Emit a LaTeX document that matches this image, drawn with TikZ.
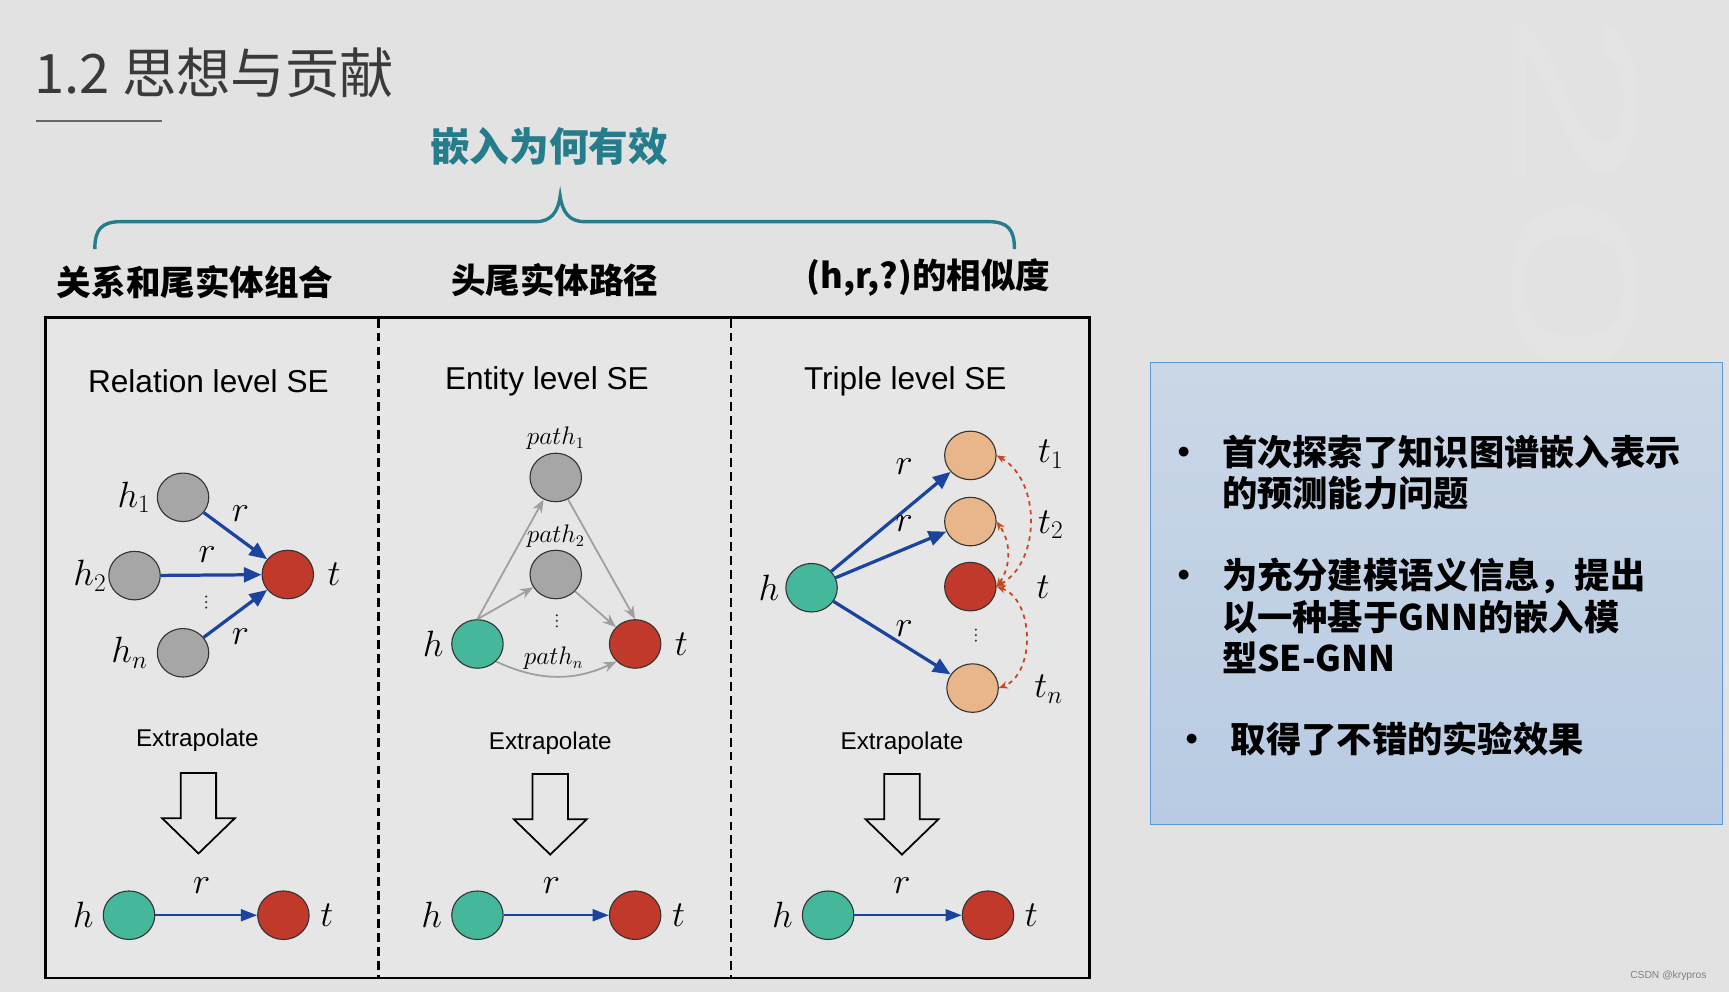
\documentclass[tikz,border=0pt]{standalone}
\usepackage{fontspec}
\setmainfont{Liberation Sans}
\newfontfamily\cjk{Noto Sans CJK SC}
\usepackage{tikz}
\usetikzlibrary{arrows.meta,positioning,shapes.geometric}
\definecolor{SlideBg}{HTML}{E2E2E2}
\definecolor{PanelBg}{HTML}{E6E6E6}
\definecolor{TitleInk}{HTML}{3A3A3A}
\definecolor{BraceTeal}{HTML}{257C8A}
\definecolor{EdgeBlue}{HTML}{1B44A0}
\definecolor{NodeGray}{HTML}{A6A6A6}
\definecolor{NodeRed}{HTML}{C0392A}
\definecolor{NodeTeal}{HTML}{45B89C}
\definecolor{NodePeach}{HTML}{E8B68A}
\definecolor{LinkOrange}{HTML}{C9471F}
\definecolor{NoteEdge}{HTML}{5B9BD5}
\definecolor{NoteTop}{HTML}{CAD7E6}
\definecolor{NoteBottom}{HTML}{B8CBE3}

\begin{document}
\begin{tikzpicture}[x=0.75pt,y=-0.75pt,
  ent/.style={ellipse,draw=black!80,line width=0.75pt,minimum width=35pt,minimum height=33pt,inner sep=0pt},
  grayent/.style={ent,fill=NodeGray},
  redent/.style={ent,fill=NodeRed},
  tealent/.style={ent,fill=NodeTeal},
  peachent/.style={ent,fill=NodePeach},
  sym/.style={inner sep=0pt,font=\fontsize{25}{25}\selectfont},
  pathlbl/.style={inner sep=0pt,font=\fontsize{16}{16}\selectfont},
  paneltitle/.style={inner sep=0pt,font=\fontsize{21.5}{22}\selectfont},
  extra/.style={inner sep=0pt,font=\fontsize{16.5}{17}\selectfont},
  heading/.style={inner sep=0pt,font=\cjk\bfseries\fontsize{23.5}{24}\selectfont},
  noteline/.style={anchor=base west,inner sep=0pt,font=\cjk\bfseries\fontsize{24}{24}\selectfont},
  dot/.style={circle,fill=black!80,inner sep=0pt,minimum size=1.6pt},
  rel/.style={-{Triangle[length=12pt,width=10pt]},draw=EdgeBlue,line width=2.2pt},
  relthin/.style={-{Triangle[length=11pt,width=8pt]},draw=EdgeBlue,line width=1.7pt},
  hop/.style={-{Stealth[length=9pt,width=7pt]},draw=gray!75,line width=1.2pt},
  sim/.style={{Stealth[length=6pt,width=5pt]}-{Stealth[length=6pt,width=5pt]},draw=LinkOrange,line width=1.2pt,dashed},
  divider/.style={line width=1.8pt,dash pattern=on 6pt off 3.5pt},
  bigdown/.style={draw=black,line width=1.2pt},
  brace/.style={draw=BraceTeal,line width=2.3pt}
]
% slide background
\path[fill=SlideBg] (0,0) rectangle (1568,900);
\node[rotate=-90,xscale=1.9,text=white,opacity=0.1,inner sep=0pt,font=\fontsize{120}{120}\selectfont] (mark) at (1428,345) {2022};

% title
\node[anchor=base west,inner sep=0pt,text=TitleInk,font=\cjk\fontsize{37}{40}\selectfont] (title) at (31,85) {1.2 思想与贡献};
\draw[draw=black!60,line width=1.5pt] (33,110) -- (147,110);

% brace with its headings
\node[inner sep=0pt,text=BraceTeal,font=\cjk\bfseries\fontsize{27}{28}\selectfont] (why) at (498,133) {嵌入为何有效};
\draw[brace] (86,226) .. controls (86,208) and (92,201) .. (110,201) -- (486,201)
  .. controls (500,201) and (506,192) .. (508,178)
  .. controls (510,192) and (516,201) .. (530,201) -- (896,201)
  .. controls (914,201) and (920,208) .. (920,226);
\node[heading] (headA) at (177,256) {关系和尾实体组合};
\node[heading] (headB) at (503,254) {头尾实体路径};
\node[heading] (headC) at (842,252) {(h,r,?)的相似度};

% framed figure
\draw[fill=PanelBg,line width=1.8pt] (41,288) rectangle (988,887);
\draw[divider] (343,289) -- (343,887);
\draw[divider] (663,289) -- (663,887);

% relation level
\node[paneltitle] (relT) at (189,346) {Relation level SE};
\node[grayent] (rh1) at (166,451) {};
\node[grayent] (rh2) at (122,522) {};
\node[grayent] (rhn) at (166,592) {};
\node[redent] (rt) at (261,521) {};
\node[sym,left=4pt of rh1] (rh1l) {$h_1$};
\node[sym,left=1pt of rh2] (rh2l) {$h_2$};
\node[sym,left=6pt of rhn] (rhnl) {$h_n$};
\node[sym,right=9pt of rt] (rtl) {$t$};
\node[dot] (rdot1) at (187,541) {};
\node[dot] (rdot2) at (187,546) {};
\node[dot] (rdot3) at (187,551) {};
\draw[rel] (rh1) -- (rt);
\draw[rel] (rh2) -- (rt);
\draw[rel] (rhn) -- (rt);
\node[sym] (rr1) at (218,466) {$r$};
\node[sym] (rr2) at (188,503) {$r$};
\node[sym] (rrn) at (218,577) {$r$};
\node[extra] (relX) at (179,671) {Extrapolate};
\draw[bigdown] (164,701) -- (196,701) -- (196,742) -- (213,742) -- (180,774) -- (147,742) -- (164,742) -- cycle;
\node[tealent] (rbh) at (117,830) {};
\node[redent] (rbt) at (257,830) {};
\node[sym,left=6pt of rbh] (rbhl) {$h$};
\node[sym,right=7pt of rbt] (rbtl) {$t$};
\draw[relthin] (rbh) -- (rbt);
\node[sym] (rbr) at (183,803) {$r$};

% entity level
\node[paneltitle] (entT) at (496,346) {Entity level SE};
\node[grayent] (ep1) at (504,433) {};
\node[grayent] (ep2) at (504,521) {};
\node[tealent] (eh) at (433,584) {};
\node[redent] (et) at (576,584) {};
\node[pathlbl,above=2pt of ep1] (ep1l) {$path_1$};
\node[pathlbl,above=1pt of ep2] (ep2l) {$path_2$};
\node[pathlbl] (epnl) at (502,597) {$path_n$};
\node[sym,left=5pt of eh] (ehl) {$h$};
\node[sym,right=9pt of et] (etl) {$t$};
\node[dot] (edot1) at (505,558) {};
\node[dot] (edot2) at (505,563) {};
\node[dot] (edot3) at (505,568) {};
\draw[hop] (eh.north) -- (ep1);
\draw[hop] (eh.north) -- (ep2);
\draw[hop] (ep1) -- (et.north);
\draw[hop] (ep2) -- (et);
\draw[hop] (eh.south east) to[bend right=25] (et.south west);
\node[extra] (entX) at (499,674) {Extrapolate};
\draw[bigdown] (483,702) -- (515,702) -- (515,743) -- (532,743) -- (499,775) -- (466,743) -- (483,743) -- cycle;
\node[tealent] (ebh) at (433,830) {};
\node[redent] (ebt) at (576,830) {};
\node[sym,left=6pt of ebh] (ebhl) {$h$};
\node[sym,right=7pt of ebt] (ebtl) {$t$};
\draw[relthin] (ebh) -- (ebt);
\node[sym] (ebr) at (500,803) {$r$};

% triple level
\node[paneltitle] (triT) at (821,346) {Triple level SE};
\node[tealent] (th) at (736,533) {};
\node[peachent] (tt1) at (880,413) {};
\node[peachent] (tt2) at (880,473) {};
\node[redent] (tt) at (880,532) {};
\node[peachent] (ttn) at (882,624) {};
\node[sym,left=4pt of th] (thl) {$h$};
\node[sym] (tt1l) at (953,412) {$t_1$};
\node[sym] (tt2l) at (953,476) {$t_2$};
\node[sym] (ttl) at (946,533) {$t$};
\node[sym] (ttnl) at (951,625) {$t_n$};
\node[dot] (tdot1) at (885,571) {};
\node[dot] (tdot2) at (885,576) {};
\node[dot] (tdot3) at (885,581) {};
\draw[rel] (th) -- (tt1);
\draw[rel] (th) -- (tt2);
\draw[rel] (th) -- (ttn);
\node[sym] (tr1) at (820,423) {$r$};
\node[sym] (tr2) at (820,475) {$r$};
\node[sym] (trn) at (820,570) {$r$};
\draw[sim] (tt.east) to[bend right=60] (tt1.east);
\draw[sim] (tt.east) to[bend right=35] (tt2.east);
\draw[sim] (tt.east) to[bend left=70] (ttn.east);
\node[extra] (triX) at (818,674) {Extrapolate};
\draw[bigdown] (802,702) -- (834,702) -- (834,743) -- (851,743) -- (818,775) -- (785,743) -- (802,743) -- cycle;
\node[tealent] (tbh) at (751,830) {};
\node[redent] (tbt) at (896,830) {};
\node[sym,left=6pt of tbh] (tbhl) {$h$};
\node[sym,right=7pt of tbt] (tbtl) {$t$};
\draw[relthin] (tbh) -- (tbt);
\node[sym] (tbr) at (818,803) {$r$};

% note box
\shade[top color=NoteTop,bottom color=NoteBottom] (1043,329) rectangle (1562,748);
\draw[draw=NoteEdge,line width=0.8pt] (1043,329) rectangle (1562,748);
\node[noteline] (b1) at (1058,422) {•};
\node[noteline] (n1a) at (1108,422) {首次探索了知识图谱嵌入表示};
\node[noteline] (n1b) at (1108,459) {的预测能力问题};
\node[noteline] (b2) at (1058,534) {•};
\node[noteline] (n2a) at (1108,534) {为充分建模语义信息，提出};
\node[noteline] (n2b) at (1108,572) {以一种基于GNN的嵌入模};
\node[noteline] (n2c) at (1108,609) {型SE-GNN};
\node[noteline] (b3) at (1065,682) {•};
\node[noteline] (n3a) at (1116,682) {取得了不错的实验效果};

\node[inner sep=0pt,text=gray,font=\fontsize{7}{7}\selectfont] (csdn) at (1513,885) {CSDN @krypros};
\end{tikzpicture}
\end{document}
